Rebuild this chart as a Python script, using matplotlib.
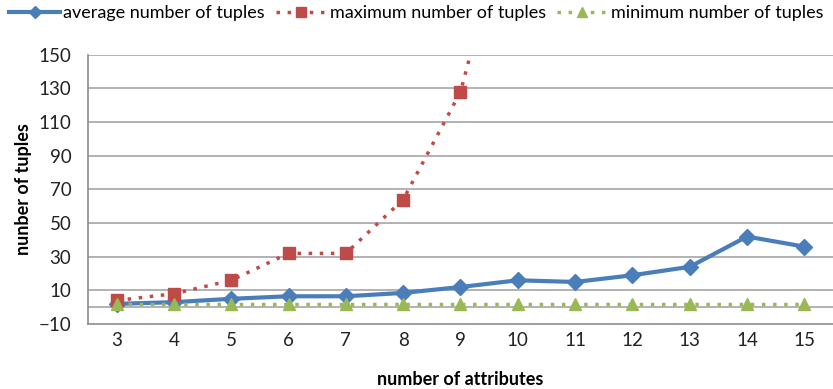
import matplotlib
matplotlib.use("Agg")
import matplotlib.pyplot as plt

plt.rcParams["font.family"] = ["Lato", "DejaVu Sans"]

attributes = [3, 4, 5, 6, 7, 8, 9, 10, 11, 12, 13, 14, 15]
avg_tuples = [2, 3, 5, 6.5, 6.5, 8.5, 12, 16, 15, 19, 24, 42, 36]
max_tuples = [4, 8, 16, 32, 32, 64, 128, 256, 512, 1024, 2048, 4096, 8192]
min_tuples = [2, 2, 2, 2, 2, 2, 2, 2, 2, 2, 2, 2, 2]
yticks = list(range(-10, 151, 20))

fig = plt.figure(figsize=(8.33, 3.89), dpi=100)
ax = fig.add_axes([0.1056, 0.167, 0.8944, 0.692])

grid_c = "#a6a6a6"
for t in yticks[1:]:
    ax.axhline(t, color=grid_c, lw=1.2, zorder=0)
ax.axhline(0, color=grid_c, lw=1.2, zorder=0)

ax.plot(attributes, avg_tuples, color="#4a7ebb", lw=3, marker="D", ms=8,
        label="average number of tuples", zorder=3)
ax.plot(attributes, max_tuples, color="#be4b48", lw=2.5, ls=(0, (1, 2.2)),
        marker="s", ms=9, label="maximum number of tuples", zorder=4)
ax.plot(attributes, min_tuples, color="#98b954", lw=2.5, ls=(0, (1, 2.2)),
        marker="^", ms=9, label="minimum number of tuples", zorder=4)

ax.set_xlim(2.5, 15.5)
ax.set_ylim(-10, 150)
ax.set_xticks(attributes)
ax.set_yticks(yticks)
ax.tick_params(axis="both", length=0, labelsize=13.5, colors="#222222")
ax.tick_params(axis="x", pad=6)
ax.tick_params(axis="y", pad=12)
for s in ["top", "right"]:
    ax.spines[s].set_visible(False)
for s in ["left", "bottom"]:
    ax.spines[s].set_color("#8c8c8c")
    ax.spines[s].set_linewidth(1.2)

ax.set_ylabel("nunber of tuples", fontsize=13, fontweight="bold")
ax.yaxis.set_label_coords(-0.075, 0.5)
ax.set_xlabel("number of attributes", fontsize=13, fontweight="bold")
ax.xaxis.set_label_coords(0.5, -0.175)

fig.legend(loc="upper center", bbox_to_anchor=(0.5, 1.0), ncol=3, frameon=False,
           fontsize=13, handlelength=2.8, handletextpad=0.2, columnspacing=0.6,
           borderpad=0.3, borderaxespad=0, markerscale=0.8)

fig.savefig("out.png", dpi=100)
